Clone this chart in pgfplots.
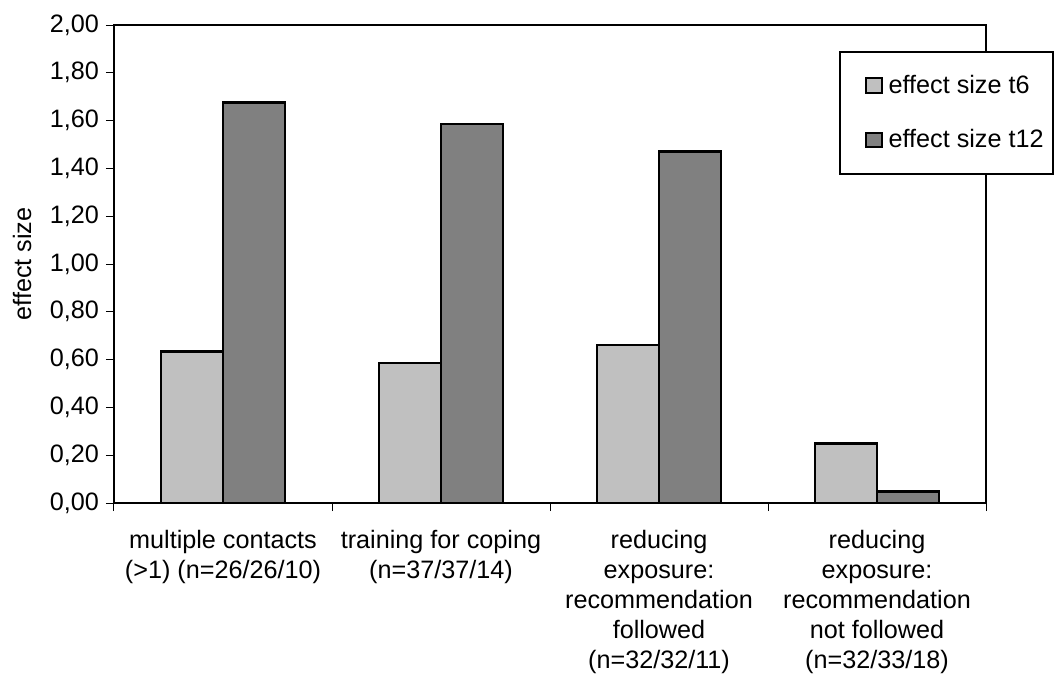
\documentclass[border=0pt]{standalone}
\usepackage{pgfplots}
\pgfplotsset{compat=1.18}
\usepackage{fontspec}
\setmainfont{Liberation Sans}

\definecolor{barlight}{HTML}{C0C0C0}
\definecolor{bardark}{HTML}{808080}

\newcommand{\chartfont}{\fontsize{12.6pt}{15pt}\selectfont}

\begin{document}
\begin{tikzpicture}[font=\chartfont]
\begin{axis}[
  at={(57pt,86pt)}, anchor=south west,
  scale only axis, width=436pt, height=239pt,
  ybar=0pt, bar width=31pt,
  xmin=-0.5, xmax=3.5,
  ymin=0, ymax=2,
  ytick={0,0.2,...,2.01},
  xtick={-0.5,0.5,1.5,2.5,3.5},
  xticklabels={},
  extra x ticks={0,1,2,3},
  extra x tick labels={
    {multiple contacts\\(>1) (n=26/26/10)},
    {training for coping\\(n=37/37/14)},
    {reducing\\exposure:\\recommendation\\followed\\(n=32/32/11)},
    {reducing\\exposure:\\recommendation\\not followed\\(n=32/33/18)}},
  extra x tick style={major tick length=0pt,
    tick label style={align=center, anchor=north, yshift=-10pt}},
  xtick pos=bottom, ytick pos=left,
  tick align=outside,
  major tick length=4pt,
  tick style={black, line width=0.5pt},
  axis line style={black, line width=1.3pt},
  yticklabel style={/pgf/number format/.cd, fixed, fixed zerofill,
    precision=2, use comma, assume math mode=true},
  ylabel={effect size},
  ylabel style={at={(axis description cs:-0.1055,0.5)}, anchor=center},
  legend style={at={(rel axis cs:0.8314,0.9456)}, anchor=north west,
    draw=black, line width=1pt, inner xsep=4.5pt, inner ysep=11.5pt,
    row sep=16.5pt, nodes={inner sep=0pt}, font=\chartfont},
  legend cell align=left,
  legend image code/.code={
    \path (-8pt,0pt);
    \draw[#1, line width=1pt] (0pt,-3.6pt) rectangle (7.8pt,3.6pt);
    \path (10.5pt,0pt);},
]
\addplot[fill=barlight, draw=black, line width=1.3pt]
  coordinates {(0,0.633) (1,0.586) (2,0.661) (3,0.250)};
\addplot[fill=bardark, draw=black, line width=1.3pt]
  coordinates {(0,1.675) (1,1.586) (2,1.470) (3,0.047)};
\legend{effect size t6, effect size t12}
\end{axis}
\pgfresetboundingbox
\path[use as bounding box] (0pt,0pt) rectangle (528pt,337.5pt);
\end{tikzpicture}
\end{document}
